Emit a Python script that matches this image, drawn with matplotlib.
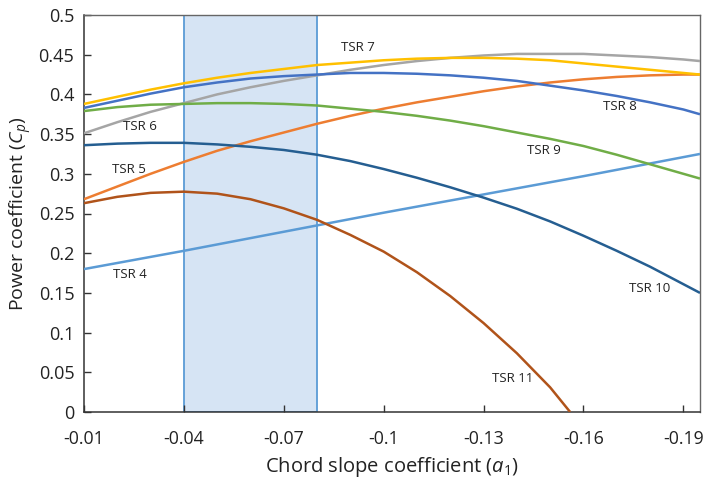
import matplotlib
matplotlib.use("Agg")
import matplotlib.pyplot as plt

plt.rcParams['font.family'] = ['Open Sans', 'DejaVu Sans']
plt.rcParams['mathtext.fontset'] = 'custom'
plt.rcParams['mathtext.it'] = 'Open Sans:italic'
plt.rcParams['mathtext.rm'] = 'Open Sans'

# chord slope coefficient samples
a1 = [-0.01, -0.02, -0.03, -0.04, -0.05, -0.06, -0.07, -0.08, -0.09, -0.10,
      -0.11, -0.12, -0.13, -0.14, -0.15, -0.16, -0.17, -0.18, -0.19, -0.195]

a1_4 = [-0.01, -0.04, -0.07, -0.10, -0.13, -0.16, -0.19, -0.195]
tsr4 = [0.180, 0.203, 0.227, 0.251, 0.274, 0.297, 0.321, 0.325]

tsr5 = [0.268, 0.284, 0.300, 0.315, 0.329, 0.341, 0.352, 0.363, 0.373, 0.382,
        0.390, 0.397, 0.404, 0.410, 0.415, 0.419, 0.422, 0.424, 0.425, 0.425]
tsr6 = [0.351, 0.365, 0.378, 0.389, 0.400, 0.409, 0.417, 0.424, 0.431, 0.437,
        0.442, 0.446, 0.449, 0.451, 0.451, 0.451, 0.449, 0.447, 0.444, 0.442]
tsr7 = [0.388, 0.397, 0.406, 0.414, 0.421, 0.427, 0.432, 0.437, 0.440, 0.443,
        0.445, 0.446, 0.446, 0.445, 0.443, 0.439, 0.435, 0.431, 0.427, 0.425]
tsr8 = [0.383, 0.392, 0.401, 0.409, 0.415, 0.420, 0.423, 0.425, 0.427, 0.427,
        0.426, 0.424, 0.421, 0.417, 0.411, 0.405, 0.398, 0.390, 0.381, 0.375]
tsr9 = [0.379, 0.384, 0.387, 0.388, 0.389, 0.389, 0.388, 0.386, 0.382, 0.378,
        0.373, 0.367, 0.360, 0.352, 0.344, 0.335, 0.324, 0.312, 0.300, 0.294]
tsr10 = [0.336, 0.338, 0.339, 0.339, 0.337, 0.334, 0.330, 0.324, 0.316, 0.306,
         0.295, 0.283, 0.270, 0.256, 0.240, 0.222, 0.203, 0.183, 0.161, 0.150]

a1_11 = [-0.01, -0.02, -0.03, -0.04, -0.05, -0.06, -0.07, -0.08, -0.09, -0.10,
         -0.11, -0.12, -0.13, -0.14, -0.15, -0.156]
tsr11 = [0.263, 0.271, 0.276, 0.2775, 0.275, 0.268, 0.2565, 0.242, 0.223, 0.202,
         0.176, 0.146, 0.112, 0.074, 0.031, 0.0]

series = [
    ("TSR 4", a1_4, tsr4, "#5B9BD5", (-0.0237, 0.173)),
    ("TSR 5", a1, tsr5, "#ED7D31", (-0.0235, 0.305)),
    ("TSR 6", a1, tsr6, "#A5A5A5", (-0.0268, 0.359)),
    ("TSR 7", a1, tsr7, "#FFC000", (-0.0922, 0.459)),
    ("TSR 8", a1, tsr8, "#4472C4", (-0.1708, 0.3845)),
    ("TSR 9", a1, tsr9, "#70AD47", (-0.148, 0.329)),
    ("TSR 10", a1, tsr10, "#255E91", (-0.180, 0.156)),
    ("TSR 11", a1_11, tsr11, "#B0531A", (-0.1387, 0.0424)),
]

band = (-0.04, -0.08)
xticks = [-0.01, -0.04, -0.07, -0.1, -0.13, -0.16, -0.19]
xticklabels = ["-0.01", "-0.04", "-0.07", "-0.1", "-0.13", "-0.16", "-0.19"]
yticks = [0, 0.05, 0.1, 0.15, 0.2, 0.25, 0.3, 0.35, 0.4, 0.45, 0.5]
yticklabels = ["0", "0.05", "0.1", "0.15", "0.2", "0.25", "0.3", "0.35", "0.4", "0.45", "0.5"]

fig = plt.figure(figsize=(7.03, 4.79), dpi=100)
ax = fig.add_axes([84/703, 67/479, 616/703, 397/479])

ax.axvspan(band[0], band[1], facecolor="#D6E4F4", edgecolor="#5B9BD5",
           linewidth=1.3, zorder=1)

for name, xs, ys, col, (tx, ty) in series:
    ax.plot(xs, ys, color=col, linewidth=1.8, zorder=3,
            solid_joinstyle="round", solid_capstyle="butt")
    ax.text(tx, ty, name, fontsize=9.5, ha="center", va="center",
            color="#222222", zorder=4)

ax.set_xlim(-0.01, -0.195)
ax.set_ylim(0, 0.5)
ax.set_xticks(xticks)
ax.set_xticklabels(xticklabels)
ax.set_yticks(yticks)
ax.set_yticklabels(yticklabels)
ax.tick_params(direction="in", length=5, width=1, labelsize=13,
               colors="#333333", labelcolor="#222222", pad=7)
ax.tick_params(axis="x", pad=13, labelsize=12.8)

for side in ["left", "bottom"]:
    ax.spines[side].set_color("#333333")
    ax.spines[side].set_linewidth(1.1)
for side in ["top", "right"]:
    ax.spines[side].set_color("#666666")
    ax.spines[side].set_linewidth(1.0)

ax.set_xlabel(r"Chord slope coefficient ($a_1$)", fontsize=14.5, color="#222222", labelpad=5)
ax.set_ylabel(r"Power coefficient ($C_p$)", fontsize=14, color="#222222", labelpad=3)

fig.savefig("out.png", dpi=100)
